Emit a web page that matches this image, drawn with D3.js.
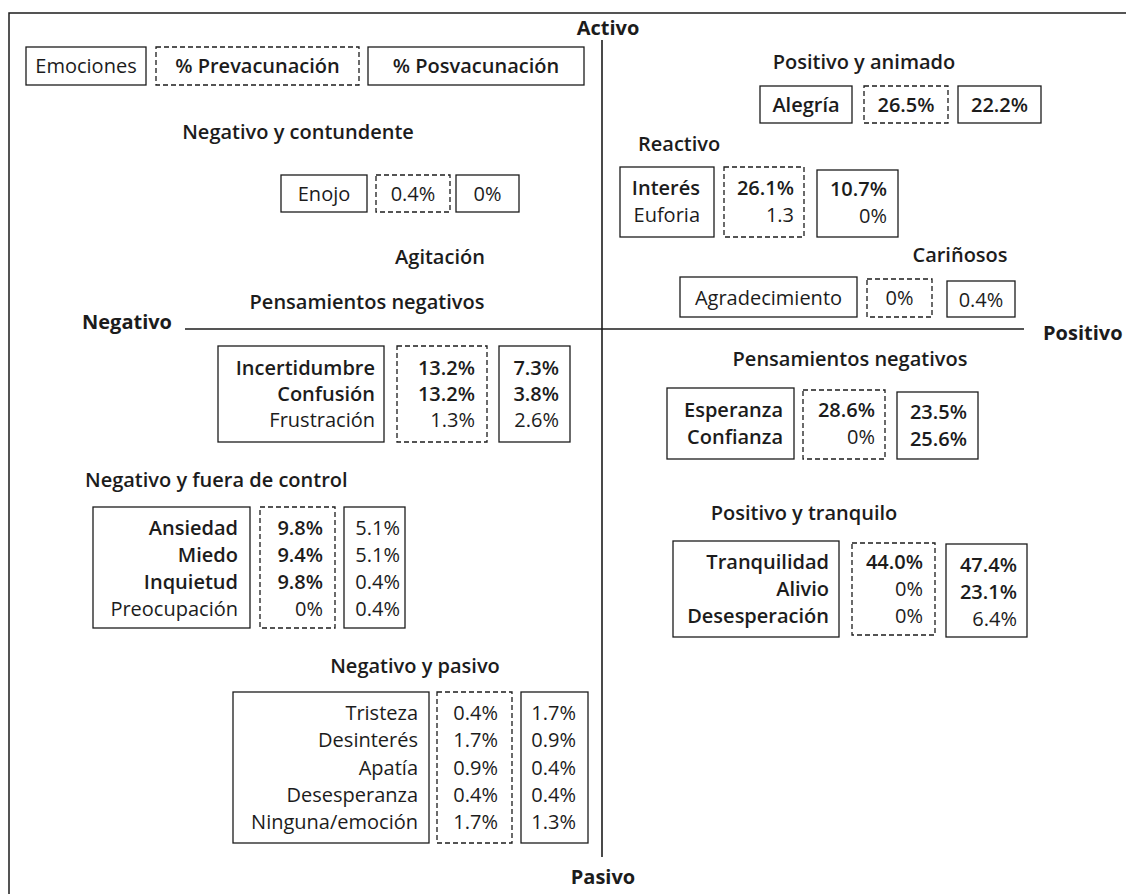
<!DOCTYPE html>
<html lang="es">
<head>
<meta charset="UTF-8">
<title>Emociones pre y posvacunación</title>
<script src="https://d3js.org/d3.v7.min.js"></script>
<style>
  body { margin: 0; background: #fff; }
  svg text { font-family: "Open Sans", "Noto Sans", sans-serif; fill: #1c1c1c; font-size: 20px; }
</style>
</head>
<body>
<div id="chart"></div>
<script>

// ---- data ----
const axisLabels = ["Activo", "Pasivo", "Negativo", "Positivo"];
const legendLabels = ["Emociones", "% Prevacunación", "% Posvacunación"];
const extraHeadings = ["Agitación"];

const groupNames = [
  "Positivo y animado", "Reactivo", "Cariñosos",
  "Negativo y contundente", "Pensamientos negativos", "Negativo y fuera de control",
  "Negativo y pasivo", "Pensamientos negativos", "Positivo y tranquilo"
];

const emotions = [
  ["Alegría"],
  ["Interés", "Euforia"],
  ["Agradecimiento"],
  ["Enojo"],
  ["Incertidumbre", "Confusión", "Frustración"],
  ["Ansiedad", "Miedo", "Inquietud", "Preocupación"],
  ["Tristeza", "Desinterés", "Apatía", "Desesperanza", "Ninguna/emoción"],
  ["Esperanza", "Confianza"],
  ["Tranquilidad", "Alivio", "Desesperación"]
];

// % prevacunación (Euforia is printed without the % sign)
const preValues = [
  [26.5],
  [26.1, "1.3"],
  [0],
  [0.4],
  [13.2, 13.2, 1.3],
  [9.8, 9.4, 9.8, 0],
  [0.4, 1.7, 0.9, 0.4, 1.7],
  [28.6, 0],
  [44.0, 0, 0]
];

// % posvacunación
const postValues = [
  [22.2],
  [10.7, 0],
  [0.4],
  [0],
  [7.3, 3.8, 2.6],
  [5.1, 5.1, 0.4, 0.4],
  [1.7, 0.9, 0.4, 0.4, 1.3],
  [23.5, 25.6],
  [47.4, 23.1, 6.4]
];

// ---- styling: which cells are set in bold (label, pre, post) ----
const boldCells = [
  [[1], [1], [1]],
  [[1, 0], [1, 0], [1, 0]],
  [[0], [0], [0]],
  [[0], [0], [0]],
  [[1, 1, 0], [1, 1, 0], [1, 1, 0]],
  [[1, 1, 1, 0], [1, 1, 1, 0], [0, 0, 0, 0]],
  [[0, 0, 0, 0, 0], [0, 0, 0, 0, 0], [0, 0, 0, 0, 0]],
  [[1, 1], [1, 0], [1, 1]],
  [[1, 1, 1], [1, 0, 0], [1, 1, 0]]
];

// ---- layout: heading position, box extents [x0,x1,y0,y1], first/last row, text anchors ----
const layout = [
  {head: [864, 62, "middle"], boxLabel: [760, 852, 86, 123], boxPre: [864, 948, 86, 123], boxPost: [958, 1041, 86, 123], rows: [105, 105]},
  {head: [638, 144, "start"], boxLabel: [620, 714, 167, 237], boxPre: [724, 804, 167, 237], boxPost: [817, 898, 170, 237], rows: [188, 215], textX: [700, 794, 887], postShift: 1},
  {head: [960, 255, "middle"], boxLabel: [680, 857, 277, 317], boxPre: [867, 932, 279, 317], boxPost: [947, 1015, 281, 317], rows: [298, 298], postShift: 2},
  {head: [298, 132, "middle"], boxLabel: [281, 367, 175, 212], boxPre: [376, 450, 175, 212], boxPost: [456, 519, 175, 212], rows: [194, 194]},
  {head: [367, 302, "middle"], boxLabel: [218, 384, 346, 442], boxPre: [397, 487, 346, 442], boxPost: [499, 570, 346, 442], rows: [368, 420], textX: [375, 475, 559]},
  {head: [85, 480, "start"], boxLabel: [93, 250, 507, 628], boxPre: [260, 335, 507, 628], boxPost: [344, 405, 507, 628], rows: [528, 609], textX: [238, 323, 400]},
  {head: [415, 666, "middle"], boxLabel: [233, 429, 692, 843], boxPre: [437, 512, 692, 843], boxPost: [521, 588, 692, 843], rows: [713, 822], textX: [418, 498, 576]},
  {head: [850, 359, "middle"], boxLabel: [667, 794, 388, 459], boxPre: [803, 885, 390, 459], boxPost: [897, 978, 392, 459], rows: [410, 437], textX: [783, 875, 967], postShift: 2},
  {head: [804, 513, "middle"], boxLabel: [673, 839, 541, 637], boxPre: [852, 935, 543, 635], boxPost: [946, 1027, 544, 637], rows: [562, 616], textX: [829, 923, 1017], postShift: 3}
];

const width = 1126, height = 894;
const ink = "#1c1c1c";
const dash = "5,3";

const fmt = v => typeof v === "string" ? v : (v === 0 ? "0%" : v.toFixed(1) + "%");

const svg = d3.select("#chart").append("svg")
  .attr("width", width)
  .attr("height", height);

// outer frame, cut off at the right and bottom like the source
svg.append("path")
  .attr("d", `M9,${height} V13 H${width}`)
  .attr("fill", "none")
  .attr("stroke", ink)
  .attr("stroke-width", 1.5);

// quadrant axes
const xq = d3.scaleLinear().domain([-1, 0, 1]).range([185, 602, 1024]);
const yq = d3.scaleLinear().domain([1, 0, -1]).range([40, 329, 857]);

svg.append("line")
  .attr("x1", xq(0)).attr("x2", xq(0))
  .attr("y1", yq(1)).attr("y2", yq(-1))
  .attr("stroke", ink).attr("stroke-width", 1.6);

svg.append("line")
  .attr("x1", xq(-1)).attr("x2", xq(1))
  .attr("y1", yq(0)).attr("y2", yq(0))
  .attr("stroke", ink).attr("stroke-width", 1.6);

const axisPos = [
  [xq(0) + 6, 28, "middle"],
  [xq(0) + 1, 877, "middle"],
  [xq(-1) - 13, yq(0) - 7, "end"],
  [xq(1) + 19, yq(0) + 4, "start"]
];

svg.selectAll("text.axis")
  .data(axisLabels)
  .join("text")
  .attr("class", "axis")
  .attr("x", (d, i) => axisPos[i][0])
  .attr("y", (d, i) => axisPos[i][1])
  .attr("dy", "0.35em")
  .attr("text-anchor", (d, i) => axisPos[i][2])
  .attr("font-weight", 700)
  .text(d => d);

// legend
const legendBoxes = [[26, 146], [156, 359], [368, 584]];
const legend = svg.append("g");

legend.selectAll("rect")
  .data(legendLabels)
  .join("rect")
  .attr("x", (d, i) => legendBoxes[i][0])
  .attr("y", 47)
  .attr("width", (d, i) => legendBoxes[i][1] - legendBoxes[i][0])
  .attr("height", 38)
  .attr("fill", "none")
  .attr("stroke", ink)
  .attr("stroke-width", 1.3)
  .attr("stroke-dasharray", (d, i) => i === 1 ? dash : null);

legend.selectAll("text")
  .data(legendLabels)
  .join("text")
  .attr("x", (d, i) => (legendBoxes[i][0] + legendBoxes[i][1]) / 2)
  .attr("y", 66)
  .attr("dy", "0.35em")
  .attr("text-anchor", "middle")
  .attr("font-weight", (d, i) => i === 0 ? 400 : 600)
  .text(d => d);

// orphan heading
svg.selectAll("text.extra")
  .data(extraHeadings)
  .join("text")
  .attr("class", "extra")
  .attr("x", 440)
  .attr("y", 257)
  .attr("dy", "0.35em")
  .attr("text-anchor", "middle")
  .attr("font-weight", 600)
  .text(d => d);

// emotion groups
const groups = groupNames.map((name, i) => ({
  name,
  emotions: emotions[i],
  pre: preValues[i].map(fmt),
  post: postValues[i].map(fmt),
  bold: boldCells[i],
  ...layout[i]
}));

groups.forEach(g => {
  const el = svg.append("g");

  el.append("text")
    .attr("x", g.head[0])
    .attr("y", g.head[1])
    .attr("dy", "0.35em")
    .attr("text-anchor", g.head[2])
    .attr("font-weight", 600)
    .text(g.name);

  const row = d3.scalePoint()
    .domain(d3.range(g.emotions.length))
    .range(g.rows);

  const cols = [
    {box: g.boxLabel, dashed: false, texts: g.emotions, bold: g.bold[0], shift: 0},
    {box: g.boxPre, dashed: true, texts: g.pre, bold: g.bold[1], shift: 0},
    {box: g.boxPost, dashed: false, texts: g.post, bold: g.bold[2], shift: g.postShift || 0}
  ];

  cols.forEach((c, ci) => {
    const [x0, x1, y0, y1] = c.box;
    el.append("rect")
      .attr("x", x0).attr("y", y0)
      .attr("width", x1 - x0).attr("height", y1 - y0)
      .attr("fill", "none")
      .attr("stroke", ink)
      .attr("stroke-width", 1.3)
      .attr("stroke-dasharray", c.dashed ? dash : null);

    const tx = g.textX ? g.textX[ci] : (x0 + x1) / 2;
    el.selectAll(null)
      .data(c.texts)
      .join("text")
      .attr("x", tx)
      .attr("y", (d, i) => row(i) + c.shift)
      .attr("dy", "0.35em")
      .attr("text-anchor", g.textX ? "end" : "middle")
      .attr("font-weight", (d, i) => c.bold[i] ? 600 : 400)
      .text(d => d);
  });
});

</script>
</body>
</html>
